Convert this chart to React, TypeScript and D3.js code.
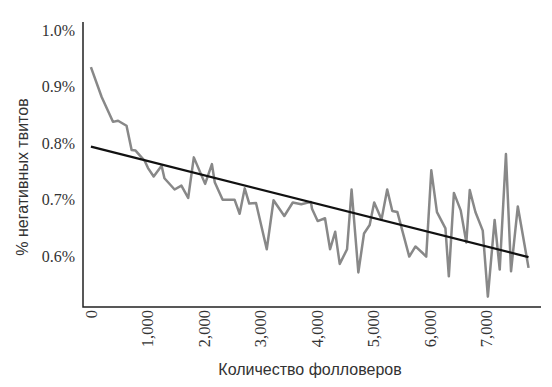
import React, { useEffect, useRef } from 'react';
import * as d3 from 'd3';

// followers (x) and share of negative tweets in % (y)
const followers = [
  0, 190, 390, 480, 630, 720, 790, 860, 950, 1010, 1110, 1250, 1300, 1480, 1600, 1720, 1820,
  2020, 2140, 2190, 2330, 2540, 2630, 2720, 2800, 2920, 3110, 3230, 3420, 3570, 3720, 3890,
  3910, 4010, 4140, 4230, 4320, 4400, 4530, 4610, 4730, 4830, 4930, 5010, 5140, 5240, 5330,
  5420, 5630, 5740, 5880, 5930, 6020, 6120, 6270, 6330, 6420, 6540, 6640, 6700, 6800, 6930,
  7020, 7140, 7230, 7340, 7430, 7550, 7740,
];
const negativeShare = [
  0.935, 0.882, 0.838, 0.84, 0.831, 0.788, 0.787, 0.779, 0.769, 0.756, 0.741, 0.76, 0.738,
  0.718, 0.725, 0.703, 0.775, 0.728, 0.763, 0.731, 0.7, 0.7, 0.675, 0.72, 0.693, 0.694,
  0.612, 0.699, 0.671, 0.695, 0.692, 0.696, 0.684, 0.662, 0.667, 0.612, 0.643, 0.586, 0.612,
  0.718, 0.571, 0.64, 0.655, 0.695, 0.665, 0.718, 0.68, 0.678, 0.599, 0.617, 0.604, 0.599,
  0.752, 0.678, 0.649, 0.564, 0.712, 0.681, 0.624, 0.717, 0.678, 0.645, 0.528, 0.664, 0.576,
  0.781, 0.573, 0.688, 0.579,
];

// linear trend, two ends
const trendFollowers = [0, 7740];
const trendShare = [0.794, 0.598];

const yTicks = [0.6, 0.7, 0.8, 0.9, 1.0];
const xTicks = [0, 1000, 2000, 3000, 4000, 5000, 6000, 7000];

const xTitle = 'Количество фолловеров';
const yTitle = '% негативных твитов';

const width = 552;
const height = 387;
const margin = { top: 22, right: 11, bottom: 80, left: 83 };

const App = () => {
  const ref = useRef<SVGSVGElement>(null);

  useEffect(() => {
    const svg = d3.select(ref.current);
    svg.selectAll('*').remove();

    const x = d3.scaleLinear().domain([-140, 7960]).range([margin.left, width - margin.right]);
    const y = d3.scaleLinear().domain([0.5096, 1.0151]).range([height - margin.bottom, margin.top]);

    const g = svg.append('g');

    // y tick labels (no tick marks)
    g.selectAll('.ytick')
      .data(yTicks)
      .enter()
      .append('text')
      .attr('x', margin.left - 8)
      .attr('y', (d) => y(d))
      .attr('dy', '0.35em')
      .attr('text-anchor', 'end')
      .style('font-family', '"Liberation Serif", serif')
      .style('font-size', '16px')
      .style('fill', '#333')
      .text((d) => `${d.toFixed(1)}%`);

    // x tick labels, rotated
    g.selectAll('.xtick')
      .data(xTicks)
      .enter()
      .append('text')
      .attr('transform', (d) => `translate(${x(d)}, ${height - margin.bottom + 3}) rotate(-90)`)
      .attr('dy', '0.35em')
      .attr('text-anchor', 'end')
      .style('font-family', '"Liberation Serif", serif')
      .style('font-size', '16.5px')
      .style('fill', '#333')
      .text((d) => d3.format(',')(d));

    // axis lines
    g.append('path')
      .attr(
        'd',
        `M${margin.left},${margin.top}V${height - margin.bottom}H${width - margin.right}`
      )
      .style('fill', 'none')
      .style('stroke', '#222')
      .style('stroke-width', 1.5);

    const line = d3
      .line<number>()
      .x((_, i) => x(followers[i]))
      .y((d) => y(d));

    g.append('path')
      .attr('d', line(negativeShare))
      .style('fill', 'none')
      .style('stroke', '#888')
      .style('stroke-width', 2.5)
      .style('stroke-linejoin', 'round');

    const trend = d3
      .line<number>()
      .x((_, i) => x(trendFollowers[i]))
      .y((d) => y(d));

    g.append('path')
      .attr('d', trend(trendShare))
      .style('fill', 'none')
      .style('stroke', '#111')
      .style('stroke-width', 2.2);

    // titles
    g.append('text')
      .attr('x', 310)
      .attr('y', 375)
      .attr('text-anchor', 'middle')
      .style('font-family', '"Liberation Sans", Arial, sans-serif')
      .style('font-size', '16px')
      .style('fill', '#333')
      .text(xTitle);

    g.append('text')
      .attr('transform', 'translate(28, 177) rotate(-90)')
      .attr('text-anchor', 'middle')
      .style('font-family', '"Liberation Sans", Arial, sans-serif')
      .style('font-size', '16px')
      .style('fill', '#333')
      .text(yTitle);
  }, []);

  return (
    <svg
      ref={ref}
      width={width}
      height={height}
      style={{ position: 'absolute', left: 0, top: 0, background: '#fff' }}
    />
  );
};

export default App;
